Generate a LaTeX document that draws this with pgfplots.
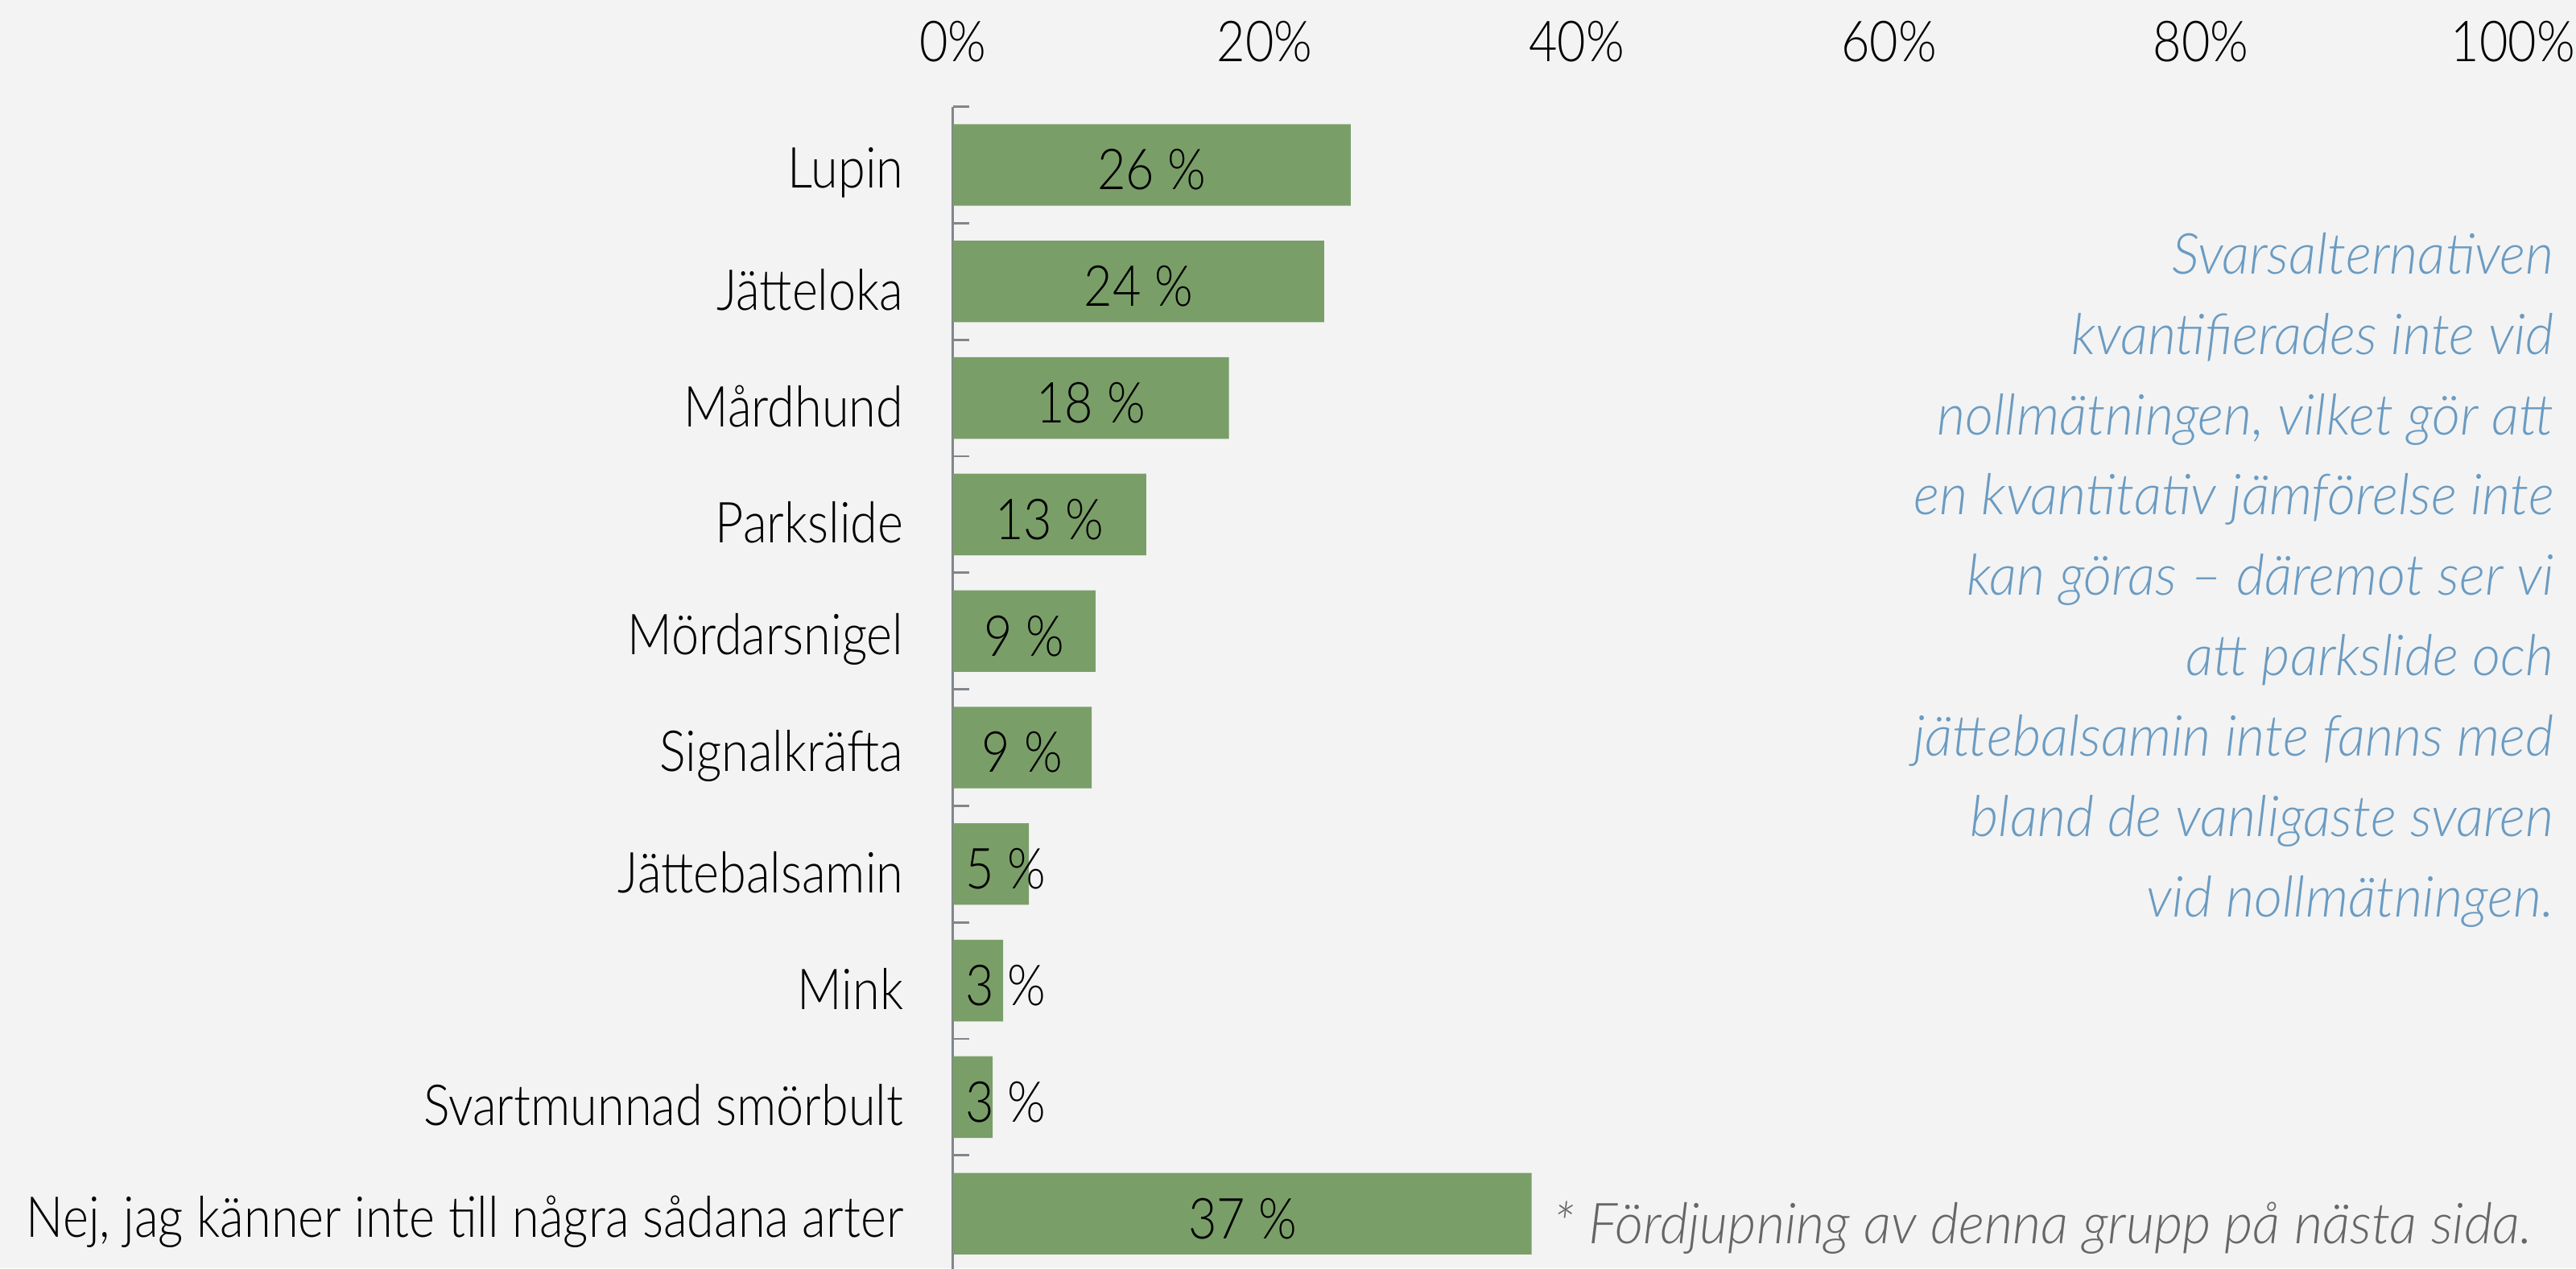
\documentclass[border=0pt]{standalone}
\usepackage{fontspec}
\setmainfont{Lato}[UprightFont=* Light, ItalicFont=* Light Italic,
  UprightFeatures={FakeStretch=0.87}, ItalicFeatures={FakeStretch=0.97}]
\usepackage{pgfplots}
\pgfplotsset{compat=1.18}
\definecolor{bg}{HTML}{F3F3F3}
\definecolor{bargreen}{HTML}{7A9E68}
\definecolor{note}{HTML}{6A9BC2}
\definecolor{axisgray}{HTML}{80868C}
\definecolor{footgray}{HTML}{666666}

\begin{document}
\begin{tikzpicture}
\fill[bg] (0,0) rectangle (16,7.88);
\useasboundingbox (0,0) rectangle (16,7.88);
\begin{axis}[
  at={(5.918cm,7.217cm)}, anchor=north west,
  scale only axis, width=9.69cm, height=7.24cm,
  xmin=0, xmax=100, ymin=-0.5, ymax=9.5, y dir=reverse,
  axis x line*=top, axis y line*=left,
  x axis line style={draw=none},
  y axis line style={draw=axisgray, line width=0.4pt, -},
  xtick={0,20,...,100},
  xticklabel={\pgfmathprintnumber{\tick}\%},
  /pgf/number format/assume math mode=true,
  xtick style={draw=none},
  xticklabel style={font=\fontsize{10}{12}\selectfont, inner sep=0pt, yshift=0.27cm},
  ytick={0,...,9},
  yticklabels={Lupin, Jätteloka, Mårdhund, Parkslide, Mördarsnigel, Signalkräfta,
    Jättebalsamin, Mink, Svartmunnad smörbult, {Nej, jag känner inte till några sådana arter}},
  yticklabel style={font=\fontsize{10}{12}\selectfont, inner sep=0pt, xshift=-0.3cm, yshift=-0.05cm},
  major y tick style={draw=none},
  minor ytick={-0.5,0.5,...,9.5},
  minor y tick style={draw=axisgray, line width=0.4pt},
  minor tick length=0.1cm, ytick align=inside,
  clip=false,
]
\addplot[xbar, bar width=0.7, fill=bargreen, draw=none] coordinates {
(25.5,0)(23.8,1)(17.7,2)(12.4,3)(9.15,4)(8.9,5)(4.88,6)(3.22,7)(2.56,8)(37.1,9)};
\addplot[only marks, mark=none, point meta=explicit symbolic, nodes near coords,
  every node near coord/.append style={anchor=center, inner sep=0pt, text=black,
    yshift=-0.03cm, font=\fontsize{10}{12}\selectfont}] coordinates {
(12.75,0)[26 \%] (11.9,1)[24 \%] (8.85,2)[18 \%] (6.2,3)[13 \%] (4.6,4)[9 \%]
(4.45,5)[9 \%] (3.4,6)[5 \%] (3.4,7)[3 \%] (3.4,8)[3 \%] (18.6,9)[37 \%]};
\end{axis}
\node[anchor=north east, align=right, inner sep=0pt, text=note,
  font=\itshape\fontsize{10}{14.2}\selectfont] at (15.87,6.44)
  {Svarsalternativen\\kvantifierades inte vid\\nollmätningen, vilket gör att\\
   en kvantitativ jämförelse inte\\kan göras – däremot ser vi\\att parkslide och\\
   jättebalsamin inte fanns med\\bland de vanligaste svaren\\vid nollmätningen.};
\node[anchor=west, inner sep=0pt, text=footgray, font=\itshape\fontsize{10}{12}\selectfont]
  at (9.64,0.25) {* Fördjupning av denna grupp på nästa sida.};
\end{tikzpicture}
\end{document}
